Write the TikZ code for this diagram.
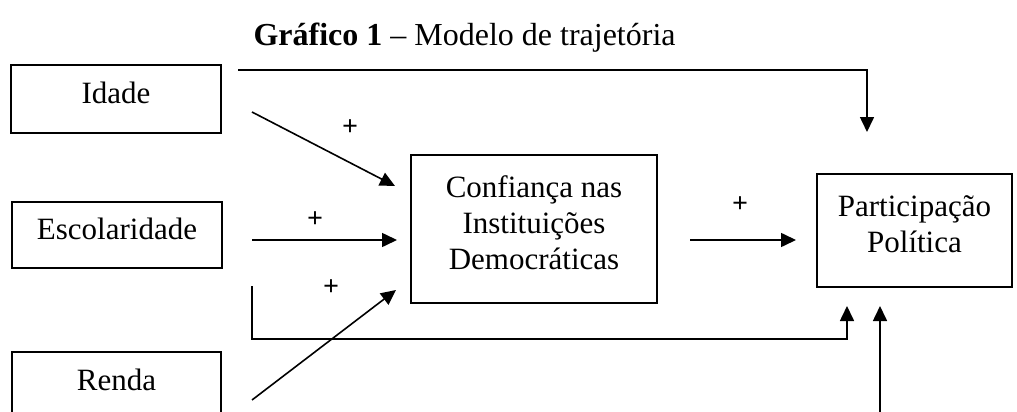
\documentclass[tikz,border=0pt]{standalone}
\usepackage{fontspec}
\setmainfont{Liberation Serif}
\usetikzlibrary{arrows.meta}

\tikzstyle{bx} = [draw, line width=1.6pt, align=center, inner sep=0pt, text depth=13pt, font=\fontsize{31}{36}\selectfont]
\tikzstyle{pl} = [font=\fontsize{28}{30}\selectfont\bfseries, inner sep=0pt]
\tikzstyle{ar} = [line width=1.6pt, -{Triangle[length=15pt,width=14pt]}]

\begin{document}
\begin{tikzpicture}[x=1pt, y=-1pt]
  \clip (0,0) rectangle (1017,412);
  \node[font=\fontsize{32}{38}\selectfont, anchor=base west] (tit) at (250,46)
    {\textbf{Gráfico 1} – Modelo de trajetória};
  % boxes
  \node[bx, minimum width=210pt, minimum height=68pt] (idade) at (116,99) {Idade};
  \node[bx, minimum width=210pt, minimum height=66pt] (escol) at (117,235) {Escolaridade};
  \node[bx, minimum width=209pt, minimum height=68pt] (renda) at (116.5,386) {Renda};
  \node[bx, minimum width=246pt, minimum height=148pt] (conf) at (534,229)
    {Confiança nas\\Instituições\\Democráticas};
  \node[bx, minimum width=195pt, minimum height=113pt] (part) at (914.5,230.5)
    {Participação\\Política};
  % free ends
  \coordinate (a1) at (238,70);
  \coordinate (a2) at (867,132);
  \coordinate (b1) at (252,112);
  \coordinate (b2) at (395,186);
  \coordinate (c1) at (252,240);
  \coordinate (c2) at (397,240);
  \coordinate (d1) at (252,400);
  \coordinate (d2) at (396,290);
  \coordinate (e1) at (252,286);
  \coordinate (e2) at (847,339);
  \coordinate (e3) at (847,306);
  \coordinate (f1) at (880,420);
  \coordinate (f2) at (880,306);
  \coordinate (g1) at (690,240);
  \coordinate (g2) at (796,240);
  % arrows
  \draw[ar] (a1) -| (a2);
  \draw[ar] (b1) -- (b2);
  \draw[ar] (c1) -- (c2);
  \draw[ar] (d1) -- (d2);
  \draw[ar] (e1) |- (e2) -- (e3);
  \draw[ar] (f1) -- (f2);
  \draw[ar] (g1) -- (g2);
  % signs
  \node[pl] (p1) at (350,128) {+};
  \node[pl] (p2) at (315,220) {+};
  \node[pl] (p3) at (331,288) {+};
  \node[pl] (p4) at (740,205) {+};
\end{tikzpicture}
\end{document}
